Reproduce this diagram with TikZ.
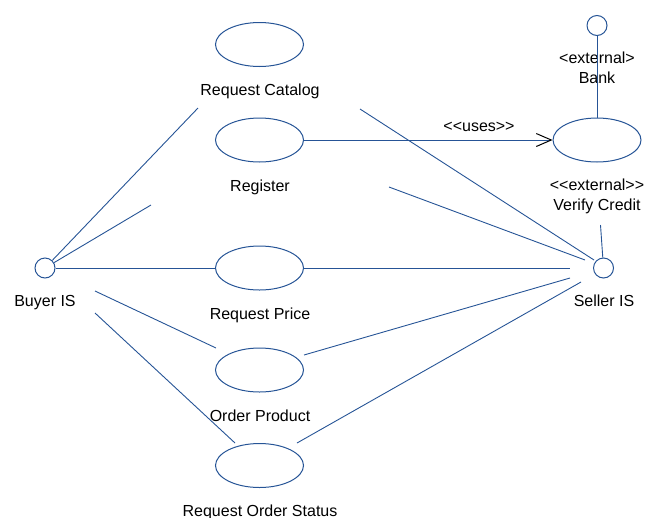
\documentclass[tikz,border=0pt]{standalone}
\usepackage{fontspec}
\setmainfont{Liberation Sans}
\usetikzlibrary{shapes.geometric,arrows.meta}
\definecolor{umlblue}{RGB}{38,84,150}
\begin{document}
\begin{tikzpicture}[x=1pt,y=-1pt,
  usecase/.style={draw=umlblue,line width=1pt,ellipse,minimum width=88pt,minimum height=44pt,inner sep=0pt},
  actor/.style={draw=umlblue,line width=1pt,circle,minimum size=20pt,inner sep=0pt},
  lbl/.style={anchor=base,inner sep=0pt,font=\fontsize{16}{19}\selectfont},
  conn/.style={draw=umlblue,line width=0.9pt}]
\useasboundingbox (0,0) rectangle (652,517);
% use cases
\node[usecase] (rc) at (259.5,44.5) {};
\node[usecase] (reg) at (259.5,140) {};
\node[usecase] (rp) at (259.5,268) {};
\node[usecase] (op) at (259.5,370) {};
\node[usecase] (ros) at (259.5,465.5) {};
\node[usecase] (vc) at (597,140) {};
% actors
\node[actor] (buyer) at (45,268) {};
\node[actor] (seller) at (603.5,268) {};
\node[actor] (bank) at (597,25.5) {};
% labels
\node[lbl] (lrc) at (260,95) {Request Catalog};
\node[lbl] (lreg) at (260,191.5) {Register};
\node[lbl] (lrp) at (260,319) {Request Price};
\node[lbl] (lop) at (260,421) {Order Product};
\node[lbl] (lros) at (260,516) {Request Order Status};
\node[lbl] (luses) at (479,131) {<{}<uses>{}>};
\node[lbl] (lext1) at (597,63.3) {<external>};
\node[lbl] (lbank) at (597,83.3) {Bank};
\node[lbl] (lext2) at (597,190) {<{}<external>{}>};
\node[lbl] (lvc) at (597,210.7) {Verify Credit};
\node[lbl] (lbuyer) at (45,306.7) {Buyer IS};
\node[lbl] (lseller) at (604,306.7) {Seller IS};
% free ends
\coordinate (a1) at (198,108);
\coordinate (a2) at (151,205);
\coordinate (b1) at (360,109);
\coordinate (b2) at (594,260);
\coordinate (c1) at (389,187);
\coordinate (c2) at (585,260);
\coordinate (d2) at (570,268);
\coordinate (e1) at (95,291);
\coordinate (e2) at (216,348);
\coordinate (f1) at (95,313);
\coordinate (f2) at (235,443);
\coordinate (g1) at (304,355);
\coordinate (g2) at (570,278);
\coordinate (h1) at (297,443);
\coordinate (h2) at (581,282);
\coordinate (v1) at (600.5,225);
% connectors
\draw[conn] (buyer) -- (a1);
\draw[conn] (buyer) -- (a2);
\draw[conn] (buyer) -- (rp);
\draw[conn] (rp) -- (d2);
\draw[conn] (b1) -- (b2);
\draw[conn] (c1) -- (c2);
\draw[conn] (e1) -- (e2);
\draw[conn] (f1) -- (f2);
\draw[conn] (g1) -- (g2);
\draw[conn] (h1) -- (h2);
\draw[conn] (v1) -- (seller);
\draw[conn] (bank) -- (vc);
\draw[conn,-{Straight Barb[length=15pt,width=13pt,color=black,line width=1pt]}] (reg) -- (vc);
\end{tikzpicture}
\end{document}
